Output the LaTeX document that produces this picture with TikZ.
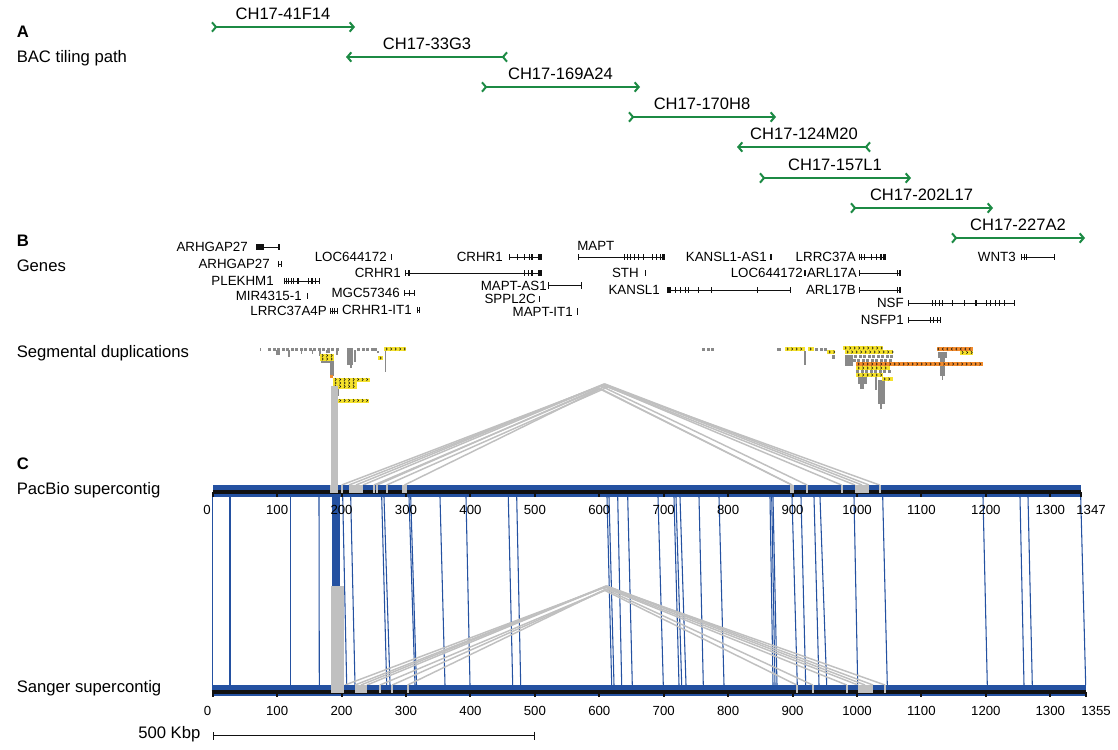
\documentclass[tikz,border=0pt]{standalone}
\usepackage{fontspec}
\setmainfont{Liberation Sans}
\usetikzlibrary{arrows.meta}
\definecolor{cBac}{HTML}{1C8A44}
\definecolor{cBar}{HTML}{2451A1}
\definecolor{cLink}{HTML}{C0C0C0}
\definecolor{cDup}{HTML}{898989}
\definecolor{cYel}{HTML}{F5E22C}
\definecolor{cOra}{HTML}{F28B2C}
\definecolor{cInk}{HTML}{111111}
\tikzset{
  sec/.style={anchor=base west, inner sep=0pt, font=\fontsize{12.5}{14}\selectfont},
  seclet/.style={anchor=base west, inner sep=0pt, font=\fontsize{12.5}{14}\selectfont\bfseries},
  bac/.style={{Straight Barb[reversed,length=3pt,width=7pt]}-{Straight Barb[length=3pt,width=7pt]}, line width=1.5pt, draw=cBac},
  bactxt/.style={above, inner sep=0pt, yshift=4.5pt, font=\fontsize{12.4}{14}\selectfont},
  glab/.style={anchor=east, inner sep=0pt, font=\fontsize{10}{12}\selectfont},
  intron/.style={line width=0.4pt, draw=cInk},
  exon/.style={fill=cInk},
  dup/.style={fill=cDup},
  chev/.style={line width=0.45pt, draw=cInk},
  seg/.style={line width=1.1pt, draw=cLink},
  segT/.style={line width=1.5pt, draw=cLink},
  bline/.style={line width=0.8pt, draw=cBar},
  axis/.style={line width=2.4pt, draw=cInk},
  tk/.style={line width=1.5pt, draw=cInk},
  num/.style={inner sep=0pt, font=\fontsize{9.9}{12}\selectfont},
}
\begin{document}
\begin{tikzpicture}[x=0.75pt,y=-0.75pt]
\fill[white] (0,0) rectangle (1118,750);
\useasboundingbox (0,0) rectangle (1118,750);
% A
\node[seclet] (labA) at (16.5,37) {A};
\node[sec] (labBac) at (16.5,62) {BAC tiling path};
\foreach \i/\xa/\xb/\yy/\nm in {1/211/355/27/CH17-41F14, 2/508/346/57/CH17-33G3, 3/481/640/87/CH17-169A24, 4/628/776/117/CH17-170H8, 5/871/737/147/CH17-124M20, 6/759/911/178/CH17-157L1, 7/850/993/208/CH17-202L17, 8/951/1085/238/CH17-227A2}{
  \coordinate (bs\i) at (\xa,\yy);
  \coordinate (be\i) at (\xb,\yy);
  \draw[bac] (bs\i) -- node[bactxt] (bt\i) {\nm} (be\i);
}
% B
\node[seclet] (labB) at (16.5,246) {B};
\node[sec] (labGenes) at (16.5,271) {Genes};
\foreach \i/\lx/\nm/\xa/\xb/\yy/\ex in {
  1/248/ARHGAP27/256/279/247/{256/259.5,260.3/263.5,278.3/279.5},
  2/270/ARHGAP27/278/282/264/{278/279.2,280.8/282},
  3/274/PLEKHM1/284/320/281/{284/285.2,286/287.2,288/289.2,290.5/291.5,293/294.2,297.3/298.5,308/309,311.3/312.5,314.8/316,319/320.2},
  4/302/MIR4315-1/307/307/296/{306.8/308.2},
  5/327/LRRC37A4P/330/338/311/{330/331.2,332/333.2,334/335.2,336.8/338},
  6/387/LOC644172/391/391/257/{390.8/392},
  7/401/CRHR1/405/542/273/{405/406.2,408.3/409.5,524/525.2,528/529.2,531.3/532.5,538/542},
  8/400/MGC57346/404/415/293/{404/405.2,408.5/409.7,414/415.2},
  9/412/CRHR1-IT1/417/420/310/{416.8/418,419/420.2},
  10/503/CRHR1/509/542/257/{509/510.2,516.5/517.7,524/525.2,528.5/529.7,531.3/532.5,538/542},
  11/547/MAPT-AS1/548/582/285.5/{548/549.2,581/582.2},
  12/536/SPPL2C/539/539/299/{538.8/540.4},
  13/573/MAPT-IT1/577/577/311.5/{576.6/578.2},
  15/639/STH/645/645/273/{644.6/645.8},
  16/660/KANSL1/667/791/290/{666.7/671,675/676.2,680/681.2,685.2/686.4,688/689.2,698/699.2,711/712.2,757/758.2,789.8/791},
  17/767/KANSL1-AS1/771/771/257/{770.4/771.8},
  18/856/LRRC37A/859/886/257/{858.6/859.8,861/862.2,863.5/864.7,871/872.2,876/877.2,880/881.6,883/886},
  19/803/LOC644172/805/805/273/{804.2/805.6},
  20/857/ARL17A/859/901/273/{858.6/859.8,896.5/897.7,899.3/901},
  21/856/ARL17B/859/901/290/{858.6/859.8,896.5/897.7,899.3/901},
  22/904/NSF/908/1015/303/{907.6/908.8,931.5/932.7,935/936.2,938.5/939.7,941.8/943,952/953.2,964/965.2,974.8/976.8,985.5/986.7,990/991.2,995/996.2,998.6/999.8,1003.8/1005,1014/1015.2},
  23/904/NSFP1/908/941/320/{907.6/908.8,929.5/930.7,933/934.2,936.5/937.7,940/941.2},
  24/1016/WNT3/1021/1055/257/{1020.6/1022.4,1023.5/1024.7,1026/1027.2,1054/1055.2}}{
  \node[glab] (g\i) at (\lx,\yy) {\nm};
  \draw[intron] (\xa,\yy) -- (\xb,\yy);
  \foreach \ea/\eb in \ex \fill[exon] (\ea,\yy-3.3) rectangle (\eb,\yy+3.3);
}
\node[glab, anchor=west] (g14) at (577,246) {MAPT};
\draw[intron] (578,257) -- (665,257);
\foreach \ea/\eb in {578/579.2,623.5/624.7,627/628.2,629.6/630.8,634/635.2,637.5/638.7,642.5/643.7,652/653.2,656/657.2,659.5/660.7,662.3/665}
  \fill[exon] (\ea,253.7) rectangle (\eb,260.3);
% segmental duplications
\node[sec] (labSD) at (16.5,357) {Segmental duplications};
\foreach \xa/\xb/\yy in {268/336/349, 357/368/349, 702/712/349, 815/826/349, 845/890/356.5, 848/890/360.5, 856/890/371.5}{
  \pgfmathtruncatemacro\nn{(\xb-\xa)/4.5}
  \foreach \k in {0,...,\nn} \fill[dup] ({\xa+4.5*\k},\yy-1.5) rectangle ++(3.2,3);
}
\foreach \xa/\ya/\xb/\yb in {259.5/347.5/261/350.5, 276/350/280/355, 288/350/290/357, 300.5/350/301.5/354, 311.5/350/312.5/354, 319/350/321/356, 326/350/330/353, 336/350/337.5/355, 347/347.5/353/365, 349.5/365/351.5/368, 354/350/356/362, 371/347.5/377/350.5, 377/350.5/378.5/353, 384.5/348/385.8/372, 321/360/333/363, 329.5/360/334/376, 333/388/339/396, 777/347.5/781/350.5, 804/351/806/365, 832/355/835/359, 845/355/853/366, 858/377/867/384, 860/384/864/389, 875/372/877/390, 878/380/885/404, 880/404/882/409, 938/352/947/358, 940/358/945/376, 941.5/376/943/380}
  \fill[dup] (\xa,\ya) rectangle (\xb,\yb);
\fill[cOra] (330,375) rectangle (333,378);
\fill[cOra] (333,396) rectangle (336,399);
\foreach \xa/\xb/\yy/\cc/\dd in {384/406/349/cYel/1, 320/334/355.5/cYel/1, 320/334/359/cYel/1, 378/383/358/cYel/1, 333/370/379.5/cYel/1, 333/357/383/cYel/1, 333/357/386.5/cYel/1, 333/369/400.5/cYel/1, 785/805/349/cYel/1, 808/814/349/cYel/1, 827/835/352/cYel/1, 843/883/348/cYel/1, 845/893/352/cYel/1, 856/983/364/cOra/1, 856/890/368/cYel/1, 856/883/375/cYel/1, 882/893/379/cYel/1, 937/973/349/cOra/-1, 960/973/352.5/cYel/1}{
  \fill[\cc] (\xa,\yy-2) rectangle (\xb,\yy+2);
  \pgfmathtruncatemacro\nn{max(0,(\xb-\xa-3)/4.5)}
  \foreach \k in {0,...,\nn}
    \draw[chev] ({\xa+2+4.5*\k},\yy-1.3) -- ++(\dd*1.3,1.3) -- ++(-\dd*1.3,1.3);
}
% C
\node[seclet] (labC) at (16.5,469) {C};
\node[sec] (labPac) at (16.5,494) {PacBio supercontig};
\node[sec] (labSan) at (16.5,692) {Sanger supercontig};
\foreach \p/\s in {212.7/212.7, 230/230, 290.7/290.7, 319/319.3, 342.7/346.7, 350.7/355, 381.7/386.7, 384/390, 409/415, 410.7/416.5, 440/445, 466/470, 508.3/512.7, 516.7/520.7, 607/611.7, 609/614, 617.7/621.7, 627.7/632.3, 658/663.3, 674/679, 676/681.7, 680/686, 699/703.3, 719/724, 770/773, 771.7/775, 773/777, 792/797.3, 801/805.7, 814/819, 820/826.7, 854/857.7, 882.7/887.3, 983/987.3, 1020/1024, 1028/1032.3, 1080.7/1085.7}
  \draw[bline] (\p,497) -- (\s,685);
\fill[cBar] (331.6,497) rectangle (339.5,586);
\fill[cLink] (331,586) rectangle (343.5,693);
\fill[cLink] (331,386) rectangle (338,485);
% links
\foreach \l/\ax/\ay/\r in {341.7/601/386/807, 349/603/385/855, 356/604/384/862, 363/605/384/869, 374/606/386/841.5, 377/599/388/792, 386.7/608/387/879.5, 404.5/600/389/792}
  \draw[seg] (\l,485) -- (\ax,\ay) -- (\r,485);
\foreach \l/\ax/\ay/\r in {345/603/588/812.7, 355/605/587/858, 361/606/586/865, 367/607/586/873, 380/608/589/846.7, 392.3/610/588/885, 407.7/604/590/796.7}
  \draw[seg] (\l,685) -- (\ax,\ay) -- (\r,685);
% bars
\fill[cBar] (212.7,485) rectangle (1080.7,497);
\fill[cBar] (211.7,685) rectangle (1085.7,696);
\draw[axis] (212.7,492) -- (1080.7,492);
\draw[axis] (211.7,692) -- (1085.7,692);
\foreach \v in {0,100,...,1300,1347} \draw[tk] ({212.7+0.6443*\v},492) -- ++(0,5);
\foreach \v in {0,100,...,1300,1355} \draw[tk] ({212.7+0.6443*\v},692) -- ++(0,4.5);
\foreach \v in {100,200,...,1300}{
  \node[num] (pn\v) at ({212.7+0.6443*\v},510) {\v};
  \node[num] (sn\v) at ({212.7+0.6443*\v},711) {\v};
}
\node[num] (pn0) at (207,510) {0};
\node[num] (pnEnd) at (1091,510) {1347};
\node[num] (sn0) at (207.5,711) {0};
\node[num] (snEnd) at (1096,711) {1355};
% markers on the bars
\foreach \xa/\xb in {330/338, 349/363, 402/407, 790/794, 855/869}
  \fill[cLink] (\xa,485) rectangle (\xb,493);
\foreach \x in {341.7, 374, 377, 386.7, 807, 841.5, 879.5}
  \draw[segT] (\x,485) -- (\x,493);
\foreach \xa/\xb in {331/343.5, 355/367, 858/873}
  \fill[cLink] (\xa,685) rectangle (\xb,693);
\foreach \x in {380, 392.3, 407.7, 796.7, 812.7, 846.7, 885}
  \draw[segT] (\x,685) -- (\x,693);
% scale
\node[sec] (labKbp) at (138,738) {500 Kbp};
\coordinate (kb0) at (212.7,735.7);
\coordinate (kb5) at (534.9,735.7);
\draw[{Bar[width=6pt]}-{Bar[width=6pt]}, line width=0.6pt, draw=cInk] (kb0) -- (kb5);
\end{tikzpicture}
\end{document}
